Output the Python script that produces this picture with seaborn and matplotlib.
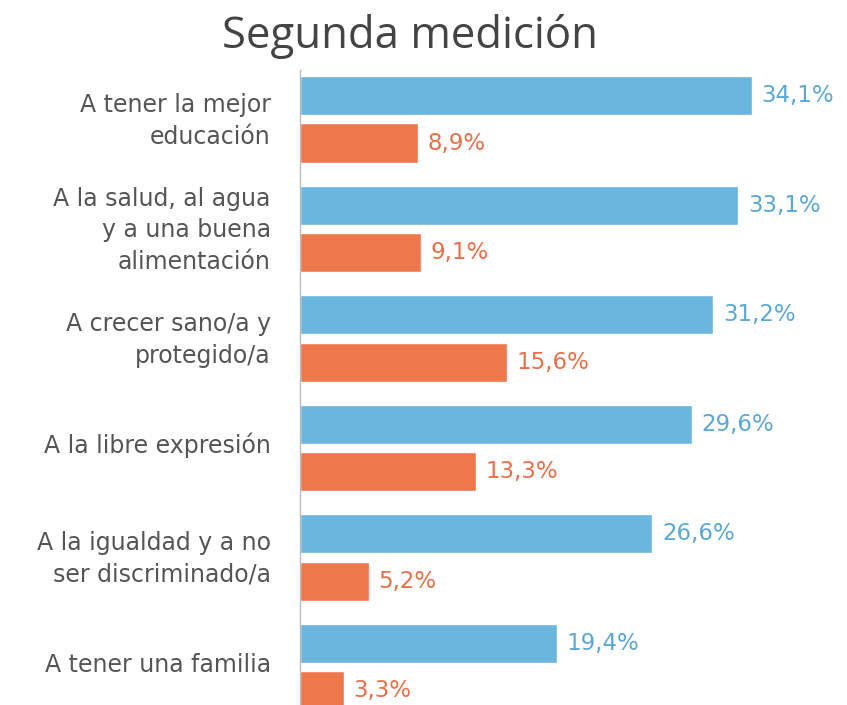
import matplotlib
matplotlib.use("Agg")
import matplotlib.pyplot as plt
import matplotlib.transforms as mtransforms
import seaborn as sns
import pandas as pd

# datos
derechos = [
    "A tener la mejor\neducación",
    "A la salud, al agua\ny a una buena\nalimentación",
    "A crecer sano/a y\nprotegido/a",
    "A la libre expresión",
    "A la igualdad y a no\nser discriminado/a",
    "A tener una familia",
]
serie_azul = [34.1, 33.1, 31.2, 29.6, 26.6, 19.4]
serie_naranja = [8.9, 9.1, 15.6, 13.3, 5.2, 3.3]
series = ["azul", "naranja"]

azul = "#6BB6DF"
naranja = "#EE774C"
azul_txt = "#5CA8D4"
naranja_txt = "#E8704A"

df = pd.DataFrame({
    "derecho": derechos * 2,
    "valor": serie_azul + serie_naranja,
    "serie": [series[0]] * len(derechos) + [series[1]] * len(derechos),
})

sns.set_style("white")
plt.rcParams["font.family"] = ["Open Sans", "DejaVu Sans"]

fig = plt.figure(figsize=(8.47, 7.05), dpi=100)
ax = fig.add_axes([300 / 847, 0, 547 / 847, 635 / 705])

sns.barplot(data=df, x="valor", y="derecho", hue="serie", orient="h",
            palette=[azul, naranja], saturation=1, width=0.86, gap=0.17,
            legend=False, ax=ax)

for cont, col in zip(ax.containers, [azul_txt, naranja_txt]):
    etiquetas = [f"{v:.1f}%".replace(".", ",") for v in cont.datavalues]
    ax.bar_label(cont, labels=etiquetas, padding=7, color=col, fontsize=16.5,
                 family="DejaVu Sans")

ax.set_xlim(0, 41.3)
ax.set_ylim(5.347, -0.452)
ax.set_xlabel("")
ax.set_ylabel("")
ax.set_xticks([])
ax.tick_params(axis="y", length=0, pad=21, labelsize=17, labelcolor="#555555")

# subir un poco las etiquetas, como en el original
subir = mtransforms.ScaledTranslation(0, 0.05, fig.dpi_scale_trans)
for tick in ax.yaxis.get_major_ticks():
    lab = tick.label1
    lab.set_family("DejaVu Sans")
    lab.set_linespacing(1.4)
    lab.set_transform(lab.get_transform() + subir)

for s in ["top", "right", "bottom"]:
    ax.spines[s].set_visible(False)
ax.spines["left"].set_color("#BBBBBB")
ax.spines["left"].set_linewidth(1)

fig.text(0.484, 0.948, "Segunda medición", ha="center", va="center",
         fontsize=31.5, color="#444444")

fig.savefig("out.png", dpi=100)
